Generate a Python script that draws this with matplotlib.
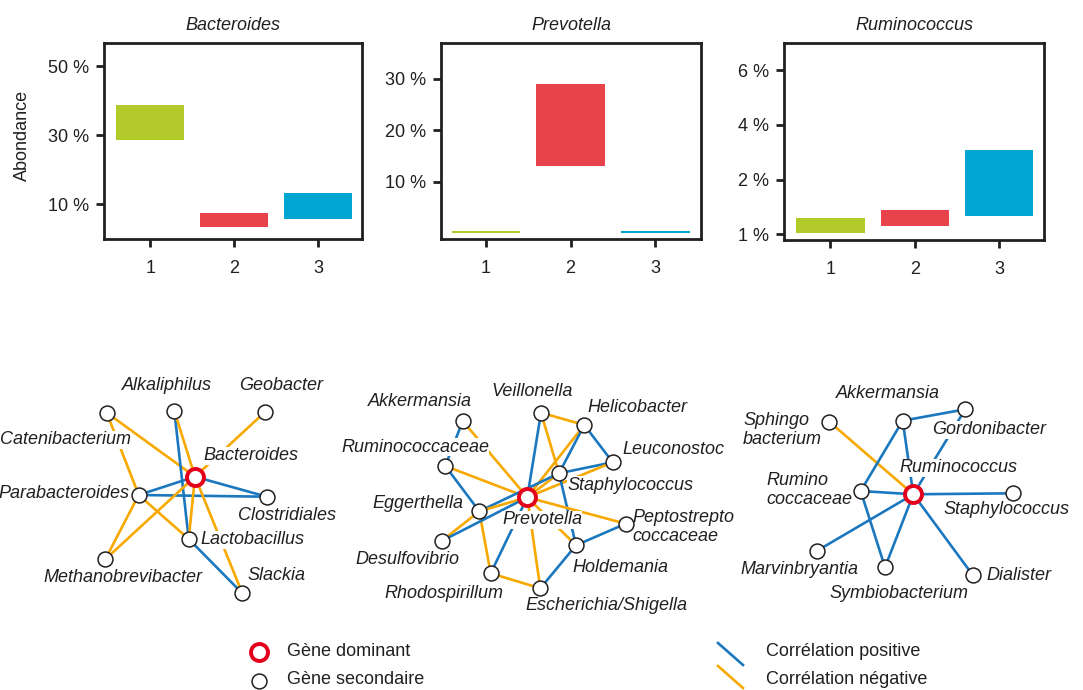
import numpy as np
import matplotlib.pyplot as plt

plt.rcParams['font.family'] = ['Liberation Sans', 'DejaVu Sans']

W, H = 1083, 690

# abondance des trois genres par groupe : bas et haut de chaque boite (%)
groupes = [1, 2, 3]
bacteroides_bas = [28.6, 3.3, 5.7]
bacteroides_haut = [38.7, 7.5, 13.2]
prevotella_bas = [0.0, 13.1, 0.0]
prevotella_haut = [0.45, 29.0, 0.45]
ruminococcus_bas = [1.03, 1.16, 1.34]
ruminococcus_haut = [1.30, 1.45, 3.08]
couleurs_groupes = ['#b2cb2b', '#e8434a', '#00a5d1']

# reseaux de correlation : (nom, x, y, x_label, y_label, alignement)
reseau_bacteroides = [
    ('Catenibacterium', 106.7, 412.7, 131, 440, 'right'),
    ('Alkaliphilus', 174.3, 410.7, 167, 386, 'center'),
    ('Geobacter', 265.3, 411.7, 281, 386, 'center'),
    ('Bacteroides', 195.0, 476.7, 203, 456, 'left'),
    ('Parabacteroides', 138.7, 495.0, 129, 494, 'right'),
    ('Clostridiales', 266.7, 496.7, 287, 515, 'center'),
    ('Lactobacillus', 188.7, 539.0, 200, 540, 'left'),
    ('Methanobrevibacter', 105.3, 559.3, 123, 578, 'center'),
    ('Slackia', 242.3, 593.3, 276, 576, 'center'),
]
liens_bacteroides = [
    ('Catenibacterium', 'Bacteroides', '-'),
    ('Catenibacterium', 'Parabacteroides', '-'),
    ('Alkaliphilus', 'Lactobacillus', '+'),
    ('Alkaliphilus', 'Bacteroides', '-'),
    ('Geobacter', 'Bacteroides', '-'),
    ('Bacteroides', 'Parabacteroides', '+'),
    ('Bacteroides', 'Clostridiales', '+'),
    ('Parabacteroides', 'Clostridiales', '+'),
    ('Parabacteroides', 'Lactobacillus', '-'),
    ('Parabacteroides', 'Methanobrevibacter', '-'),
    ('Bacteroides', 'Methanobrevibacter', '-'),
    ('Bacteroides', 'Lactobacillus', '-'),
    ('Bacteroides', 'Slackia', '-'),
    ('Lactobacillus', 'Slackia', '+'),
]

reseau_prevotella = [
    ('Akkermansia', 462.7, 421.0, 420, 401, 'center'),
    ('Veillonella', 541.0, 412.7, 532, 391, 'center'),
    ('Helicobacter', 584.3, 425.0, 587, 407, 'left'),
    ('Ruminococcaceae', 445.3, 466.0, 415, 447, 'center'),
    ('Leuconostoc', 612.7, 462.3, 622, 450, 'left'),
    ('Staphylococcus', 559.0, 473.3, 567, 485, 'left'),
    ('Prevotella', 527.3, 497.3, 542, 520, 'center'),
    ('Eggerthella', 479.3, 511.3, 463, 503, 'right'),
    ('Peptostrepto\ncoccaceae', 625.7, 523.7, 632, 527, 'left'),
    ('Desulfovibrio', 441.7, 541.0, 407, 560, 'center'),
    ('Holdemania', 576.0, 545.3, 572, 567, 'left'),
    ('Rhodospirillum', 490.7, 573.3, 444, 593, 'center'),
    ('Escherichia/Shigella', 540.3, 588.3, 525, 606, 'left'),
]
liens_prevotella = [
    ('Akkermansia', 'Ruminococcaceae', '+'),
    ('Akkermansia', 'Prevotella', '-'),
    ('Ruminococcaceae', 'Prevotella', '-'),
    ('Ruminococcaceae', 'Eggerthella', '+'),
    ('Veillonella', 'Prevotella', '+'),
    ('Veillonella', 'Helicobacter', '-'),
    ('Veillonella', 'Staphylococcus', '-'),
    ('Helicobacter', 'Prevotella', '-'),
    ('Helicobacter', 'Staphylococcus', '+'),
    ('Helicobacter', 'Leuconostoc', '+'),
    ('Leuconostoc', 'Staphylococcus', '+'),
    ('Leuconostoc', 'Prevotella', '-'),
    ('Staphylococcus', 'Prevotella', '-'),
    ('Eggerthella', 'Staphylococcus', '+'),
    ('Staphylococcus', 'Holdemania', '+'),
    ('Prevotella', 'Peptostrepto\ncoccaceae', '-'),
    ('Peptostrepto\ncoccaceae', 'Holdemania', '+'),
    ('Prevotella', 'Holdemania', '-'),
    ('Holdemania', 'Escherichia/Shigella', '+'),
    ('Prevotella', 'Escherichia/Shigella', '-'),
    ('Rhodospirillum', 'Escherichia/Shigella', '-'),
    ('Rhodospirillum', 'Prevotella', '+'),
    ('Eggerthella', 'Rhodospirillum', '-'),
    ('Eggerthella', 'Prevotella', '-'),
    ('Desulfovibrio', 'Eggerthella', '-'),
    ('Desulfovibrio', 'Prevotella', '+'),
]

reseau_ruminococcus = [
    ('Sphingo\nbacterium', 829.3, 421.7, 743, 430, 'left'),
    ('Akkermansia', 902.7, 420.7, 888, 393, 'center'),
    ('Gordonibacter', 965.3, 409.3, 932, 430, 'left'),
    ('Ruminococcus', 913.3, 494.3, 958, 468, 'center'),
    ('Rumino\ncoccaceae', 860.7, 491.0, 766, 490, 'left'),
    ('Staphylococcus', 1013.3, 493.3, 943, 510, 'left'),
    ('Marvinbryantia', 816.7, 551.0, 799, 569, 'center'),
    ('Symbiobacterium', 885.0, 567.3, 899, 594, 'center'),
    ('Dialister', 972.7, 575.0, 986, 576, 'left'),
]
liens_ruminococcus = [
    ('Sphingo\nbacterium', 'Ruminococcus', '-'),
    ('Akkermansia', 'Gordonibacter', '+'),
    ('Akkermansia', 'Ruminococcus', '+'),
    ('Akkermansia', 'Rumino\ncoccaceae', '+'),
    ('Gordonibacter', 'Ruminococcus', '+'),
    ('Rumino\ncoccaceae', 'Ruminococcus', '+'),
    ('Rumino\ncoccaceae', 'Symbiobacterium', '+'),
    ('Ruminococcus', 'Staphylococcus', '+'),
    ('Ruminococcus', 'Marvinbryantia', '+'),
    ('Ruminococcus', 'Symbiobacterium', '+'),
    ('Ruminococcus', 'Dialister', '+'),
]

BLEU = '#1b78bf'
ORANGE = '#f7a900'
ROUGE = '#e2001a'
NOIR = '#231f20'
TAILLE = 13

fig = plt.figure(figsize=(W / 100, H / 100), dpi=100)

# --- reseaux (coordonnees en pixels) ---
ax_net = fig.add_axes([0, 0, 1, 1], zorder=0)
ax_net.set_xlim(0, W)
ax_net.set_ylim(H, 0)
ax_net.axis('off')


def dessine_reseau(ax, noeuds, liens, dominant):
    pos = {n[0]: (n[1], n[2]) for n in noeuds}
    for a, b, signe in liens:
        ax.plot([pos[a][0], pos[b][0]], [pos[a][1], pos[b][1]],
                color=BLEU if signe == '+' else ORANGE, lw=1.9,
                solid_capstyle='butt', zorder=1)
    for nom, x, y, lx, ly, ha in noeuds:
        ax.text(lx, ly, nom, ha=ha, va='center', style='italic',
                fontsize=TAILLE, color=NOIR, linespacing=1.15, zorder=2,
                bbox=dict(facecolor='white', edgecolor='none', pad=0.3))
        if nom == dominant:
            ax.scatter([x], [y], s=150, facecolor='white', edgecolor=ROUGE,
                       linewidth=2.8, zorder=4)
        else:
            ax.scatter([x], [y], s=115, facecolor='white', edgecolor=NOIR,
                       linewidth=1.1, zorder=3)


dessine_reseau(ax_net, reseau_bacteroides, liens_bacteroides, 'Bacteroides')
dessine_reseau(ax_net, reseau_prevotella, liens_prevotella, 'Prevotella')
dessine_reseau(ax_net, reseau_ruminococcus, liens_ruminococcus, 'Ruminococcus')

# legende
ax_net.scatter([259], [652], s=150, facecolor='white', edgecolor=ROUGE, linewidth=2.8)
ax_net.scatter([259], [681], s=115, facecolor='white', edgecolor=NOIR, linewidth=1.1)
ax_net.text(287, 652, 'Gène dominant', ha='left', va='center', fontsize=TAILLE, color=NOIR)
ax_net.text(287, 680, 'Gène secondaire', ha='left', va='center', fontsize=TAILLE, color=NOIR)
ax_net.plot([718, 743], [643, 665], color=BLEU, lw=1.9)
ax_net.plot([718, 743], [666, 688], color=ORANGE, lw=1.9)
ax_net.text(766, 652, 'Corrélation positive', ha='left', va='center', fontsize=TAILLE, color=NOIR)
ax_net.text(766, 680, 'Corrélation négative', ha='left', va='center', fontsize=TAILLE, color=NOIR)


# --- abondances ---
def axes_px(x0, x1, y0, y1):
    return fig.add_axes([x0 / W, 1 - y1 / H, (x1 - x0) / W, (y1 - y0) / H], zorder=2)


def panneau(ax, titre, bas, haut, yticks, ylim, xlim):
    ax.bar(groupes, np.array(haut) - np.array(bas), bottom=bas, width=0.81,
           color=couleurs_groupes)
    ax.set_xlim(*xlim)
    ax.set_ylim(*ylim)
    ax.set_xticks(groupes)
    ax.set_yticks(yticks)
    ax.set_yticklabels([f'{t} %' for t in yticks])
    ax.tick_params(direction='out', length=6, width=2.0, color=NOIR,
                   labelsize=TAILLE, labelcolor=NOIR)
    ax.tick_params(axis='x', pad=9)
    ax.tick_params(axis='y', pad=5)
    for s in ax.spines.values():
        s.set_linewidth(2.0)
        s.set_color(NOIR)
    ax.set_title(titre, style='italic', fontsize=TAILLE, color=NOIR, pad=9)


ax1 = axes_px(104, 362, 43, 239)
panneau(ax1, 'Bacteroides', bacteroides_bas, bacteroides_haut,
        [10, 30, 50], (-0.1, 56.7), (0.45, 3.52))

ax2 = axes_px(441, 701, 43, 239)
panneau(ax2, 'Prevotella', prevotella_bas, prevotella_haut,
        [10, 20, 30], (-1.2, 37), (0.47, 3.54))

# echelle dilatee entre 1 % et 2 %
ax3 = axes_px(784, 1044, 43, 240)
ax3.set_yscale('function', functions=(
    lambda v: np.where(np.asarray(v) < 2, 2 * (np.asarray(v) - 1), v),
    lambda u: np.where(np.asarray(u) < 2, np.asarray(u) / 2 + 1, u)))
panneau(ax3, 'Ruminococcus', ruminococcus_bas, ruminococcus_haut,
        [1, 2, 4, 6], (0.895, 7.0), (0.45, 3.53))

fig.text(22 / W, 1 - 135 / H, 'Abondance', rotation=90, ha='center', va='center',
         fontsize=TAILLE, color=NOIR)

fig.savefig('out.png', dpi=100)
